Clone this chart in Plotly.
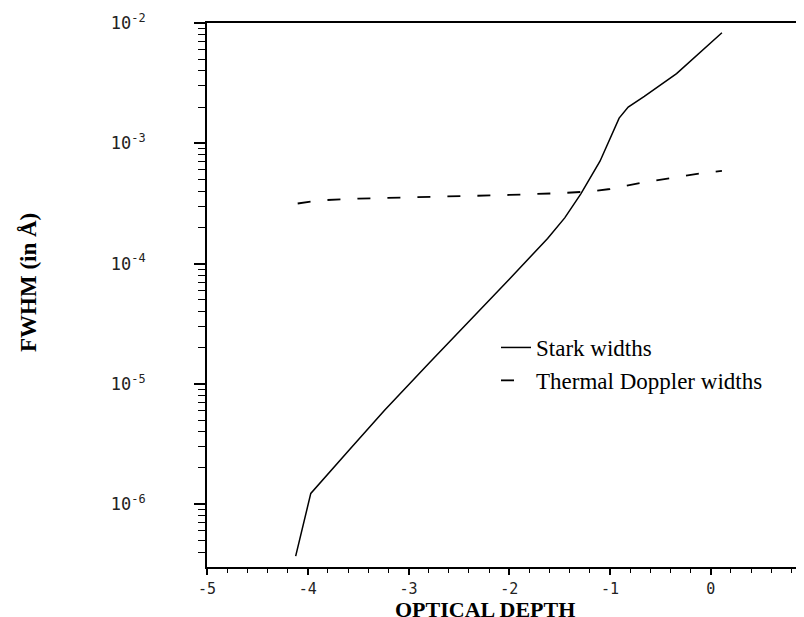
import plotly.graph_objects as go

# Optical depth (x) and FWHM in Angstrom (y)
stark_depth = [-4.12, -3.97, -3.6, -3.24, -2.8, -2.4, -2.0, -1.62, -1.45, -1.29,
               -1.10, -0.91, -0.82, -0.66, -0.34, 0.11]
stark_fwhm = [3.7e-7, 1.23e-6, 2.75e-6, 6.0e-6, 1.48e-5, 3.3e-5, 7.4e-5, 1.62e-4,
              2.4e-4, 3.8e-4, 7.1e-4, 1.62e-3, 2.0e-3, 2.45e-3, 3.8e-3, 8.3e-3]

doppler_depth = [-4.10, -3.9, -3.5, -3.0, -2.5, -2.0, -1.5, -1.2, -1.0, -0.7,
                 -0.4, -0.1, 0.11]
doppler_fwhm = [3.16e-4, 3.35e-4, 3.47e-4, 3.55e-4, 3.59e-4, 3.72e-4, 3.85e-4,
                3.98e-4, 4.17e-4, 4.68e-4, 5.13e-4, 5.62e-4, 5.89e-4]

x_tickvals = [-5, -4, -3, -2, -1, 0, 1]
x_ticktext = ["-5", "-4", "-3", "-2", "-1", "0", "1"]
y_tickvals = [1e-6, 1e-5, 1e-4, 1e-3, 1e-2]
y_ticktext = ["10<sup>-6</sup>", "10<sup>-5</sup>", "10<sup>-4</sup>",
              "10<sup>-3</sup>", "10<sup>-2</sup>"]

y_minor = [m * 10.0 ** e for e in range(-7, -2) for m in range(2, 10)]

# plot area in pixels
L, R, T, B = 199, 0, 15, 58
W, H = 804, 617
pw = W - L - R
ph = H - T - B


def px_x(px):
    return (px - L) / pw


def px_y(py):
    return 1 - (py - T) / ph


fig = go.Figure()
fig.add_trace(go.Scatter(x=stark_depth, y=stark_fwhm, mode="lines",
                         name="Stark widths",
                         line=dict(color="black", width=1.5)))
fig.add_trace(go.Scatter(x=doppler_depth, y=doppler_fwhm, mode="lines",
                         name="Thermal Doppler widths",
                         line=dict(color="black", width=1.8, dash="13px,17px")))

y_tick_font = dict(family="DejaVu Sans Mono", size=17, color="#222")
x_tick_font = dict(family="DejaVu Sans Mono", size=15, color="#222")
fig.update_layout(
    width=W, height=H,
    margin=dict(l=L, r=R, t=T, b=B),
    plot_bgcolor="white", paper_bgcolor="white",
    showlegend=True,
    legend=dict(x=px_x(488), y=px_y(318), xanchor="left", yanchor="top",
                font=dict(family="Liberation Serif", size=23, color="black"),
                bgcolor="rgba(0,0,0,0)", itemwidth=30, tracegroupgap=0),
    xaxis=dict(range=[-5, 1.004], showgrid=False, zeroline=False,
               showline=True, linecolor="black", linewidth=2, mirror=True,
               ticks="outside", ticklen=6, tickwidth=1.5, tickcolor="black",
               tickvals=x_tickvals, ticktext=x_ticktext, tickfont=x_tick_font,
               ticklabelstandoff=1,
               minor=dict(ticks="outside", ticklen=4, tickwidth=1.2,
                          tickcolor="black", dtick=0.2, showgrid=False)),
    yaxis=dict(type="log", range=[-6.522, -2], showgrid=False, zeroline=False,
               showline=True, linecolor="black", linewidth=2,
               ticks="outside", ticklen=11, tickwidth=1.5, tickcolor="black",
               tickvals=y_tickvals, ticktext=y_ticktext, tickfont=y_tick_font,
               ticklabelstandoff=45,
               minor=dict(ticks="outside", ticklen=7, tickwidth=1.2,
                          tickcolor="black", tickvals=y_minor, showgrid=False)),
    annotations=[
        dict(text="<b>OPTICAL DEPTH</b>", x=px_x(477), y=px_y(601),
             xref="paper", yref="paper", xanchor="center", yanchor="middle",
             showarrow=False, borderpad=0,
             font=dict(family="Liberation Serif", size=22, color="black")),
        dict(text="<b>FWHM (in Å)</b>", x=px_x(20), y=px_y(275),
             xref="paper", yref="paper", xanchor="center", yanchor="middle",
             showarrow=False, textangle=-90,
             font=dict(family="Liberation Serif", size=23, color="black")),
    ],
)

fig.write_html("out.html")
